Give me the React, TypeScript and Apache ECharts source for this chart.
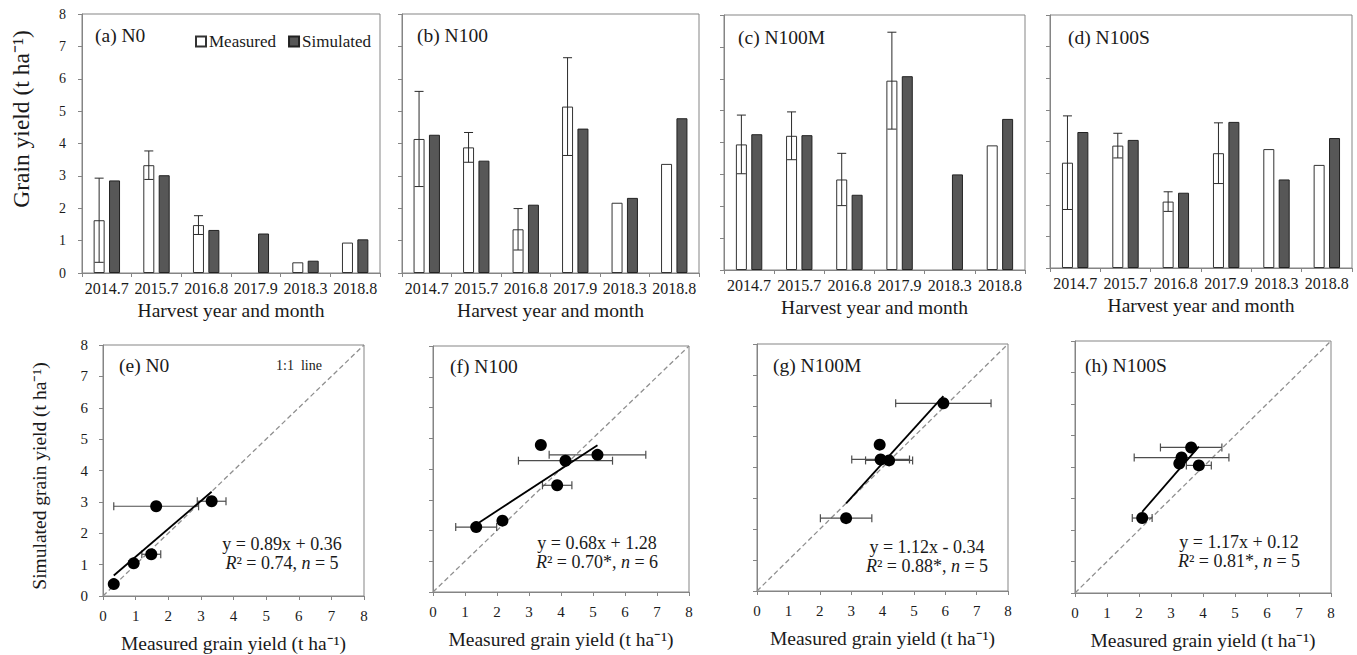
import React, { useEffect, useRef } from "react";
import * as echarts from "echarts";

const categories = ["2014.7", "2015.7", "2016.8", "2017.9", "2018.3", "2018.8"];
const treatments = ["N0", "N100", "N100M", "N100S"];
const topLetters = ["(a)", "(b)", "(c)", "(d)"];
const bottomLetters = ["(e)", "(f)", "(g)", "(h)"];

// Measured grain yield, standard deviation and simulated grain yield (t/ha)
const measuredN0 = [1.63, 3.33, 1.48, null, 0.33, 0.94];
const sdN0 = [1.3, 0.44, 0.29, null, null, null];
const simulatedN0 = [2.86, 3.02, 1.33, 1.22, 0.38, 1.04];

const measuredN100 = [4.14, 3.88, 1.35, 5.14, 2.17, 3.37];
const sdN100 = [1.47, 0.46, 0.64, 1.51, null, null];
const simulatedN100 = [4.27, 3.47, 2.11, 4.46, 2.32, 4.78];

const measuredN100M = [3.94, 4.21, 2.84, 5.94, null, 3.91];
const sdN100M = [0.92, 0.75, 0.82, 1.52, null, null];
const simulatedN100M = [4.26, 4.23, 2.36, 6.08, 3.0, 4.74];

const measuredN100S = [3.33, 3.87, 2.1, 3.63, 3.76, 3.26];
const sdN100S = [1.48, 0.39, 0.31, 0.96, null, null];
const simulatedN100S = [4.3, 4.05, 2.38, 4.62, 2.8, 4.11];

// Harvests left out of each regression
const excludedN0 = ["2017.9"];
const excludedN100: string[] = [];
const excludedN100M = ["2018.3"];
const excludedN100S = ["2018.3"];

// Regression statistics
const fitSlopes = [0.89, 0.68, 1.12, 1.17];
const fitIntercepts = [0.36, 1.28, -0.34, 0.12];
const fitEquations = ["y = 0.89x + 0.36", "y = 0.68x + 1.28", "y = 1.12x - 0.34", "y = 1.17x + 0.12"];
const fitR2 = ["0.74", "0.70*", "0.88*", "0.81*"];

const yTicks = ["0", "1", "2", "3", "4", "5", "6", "7", "8"];

const measuredAll = [measuredN0, measuredN100, measuredN100M, measuredN100S];
const sdAll = [sdN0, sdN100, sdN100M, sdN100S];
const simulatedAll = [simulatedN0, simulatedN100, simulatedN100M, simulatedN100S];
const excludedAll = [excludedN0, excludedN100, excludedN100M, excludedN100S];

const FONT = "'Liberation Serif', 'Times New Roman', Times, serif";
const AXIS_GRAY = "#858585";
const TEXT = "#1a1a1a";

const topGrids = [
  { left: 82, top: 14, width: 298, height: 259 },
  { left: 402, top: 14, width: 297, height: 259 },
  { left: 724, top: 15, width: 301, height: 255 },
  { left: 1050, top: 15, width: 302, height: 253 },
];
const bottomGrids = [
  { left: 103, top: 345, width: 261, height: 251 },
  { left: 433, top: 346, width: 256, height: 246 },
  { left: 757, top: 344, width: 251, height: 247 },
  { left: 1075, top: 341, width: 256, height: 252 },
];
const topLabelPos = [
  [95, 35],
  [417, 35],
  [738, 37],
  [1068, 37],
];
const bottomLabelPos = [
  [119, 365],
  [450, 366],
  [773, 365],
  [1085, 365],
];
const eqPos = [
  [282, 544, 563],
  [597, 543, 562],
  [927, 547, 566],
  [1239, 542, 561],
];

const BAR_W = 11;
const BAR_GAP = 0.4;

function buildOption() {
  const grid: any[] = [];
  const xAxis: any[] = [];
  const yAxis: any[] = [];
  const series: any[] = [];
  const graphic: any[] = [];

  const axisLineStyle = { lineStyle: { color: AXIS_GRAY, width: 1 } };
  const tickStyle = { show: true, length: 4, lineStyle: { color: AXIS_GRAY, width: 1 } };

  // ---------- top bar panels ----------
  for (let i = 0; i < 4; i++) {
    grid.push({ ...topGrids[i], show: true, borderColor: AXIS_GRAY, borderWidth: 1, containLabel: false });
    xAxis.push({
      type: "category",
      gridIndex: i,
      data: categories,
      axisLine: axisLineStyle,
      axisTick: { ...tickStyle, alignWithLabel: false },
      axisLabel: { color: TEXT, fontFamily: FONT, fontSize: 16, margin: 7, interval: 0 },
      name: "Harvest year and month",
      nameLocation: "middle",
      nameGap: 27,
      nameTextStyle: { color: TEXT, fontFamily: FONT, fontSize: 19.5 },
    });
    yAxis.push({
      type: "value",
      gridIndex: i,
      min: 0,
      max: 8,
      interval: 1,
      axisLine: { show: true, ...axisLineStyle },
      axisTick: tickStyle,
      splitLine: { show: false },
      axisLabel: {
        show: i === 0,
        color: TEXT,
        fontFamily: FONT,
        fontSize: 14,
        margin: 16,
        formatter: (v: number) => yTicks[Math.round(v)] ?? "",
      },
    });
    const meas = measuredAll[i];
    const sd = sdAll[i];
    series.push({
      type: "bar",
      name: "Measured",
      xAxisIndex: i,
      yAxisIndex: i,
      data: meas,
      barWidth: BAR_W,
      barGap: `${BAR_GAP * 100}%`,
      itemStyle: { color: "#ffffff", borderColor: "#333333", borderWidth: 1 },
      z: 2,
    });
    series.push({
      type: "bar",
      name: "Simulated",
      xAxisIndex: i,
      yAxisIndex: i,
      data: simulatedAll[i],
      barWidth: BAR_W,
      barGap: `${BAR_GAP * 100}%`,
      itemStyle: { color: "#575757", borderColor: "#222222", borderWidth: 1 },
      z: 2,
    });
    const errData: any[] = [];
    meas.forEach((m, k) => {
      if (m != null && sd[k] != null) errData.push([k, m, sd[k]]);
    });
    const offset = -(BAR_W + BAR_W * BAR_GAP) / 2;
    series.push({
      type: "custom",
      name: "errTop" + i,
      xAxisIndex: i,
      yAxisIndex: i,
      data: errData,
      encode: { x: 0, y: 1 },
      z: 5,
      silent: true,
      renderItem: (params: any, api: any) => {
        const k = api.value(0);
        const v = api.value(1);
        const s = api.value(2);
        const hi = api.coord([k, v + s]);
        const lo = api.coord([k, v - s]);
        const cx = hi[0] + offset;
        const st = { stroke: "#2a2a2a", lineWidth: 1 };
        return {
          type: "group",
          children: [
            { type: "line", shape: { x1: cx, y1: hi[1], x2: cx, y2: lo[1] }, style: st },
            { type: "line", shape: { x1: cx - 4.5, y1: hi[1], x2: cx + 4.5, y2: hi[1] }, style: st },
            { type: "line", shape: { x1: cx - 4.5, y1: lo[1], x2: cx + 4.5, y2: lo[1] }, style: st },
          ],
        };
      },
    });
    graphic.push({
      type: "text",
      x: topLabelPos[i][0],
      y: topLabelPos[i][1],
      style: {
        text: `${topLetters[i]} ${treatments[i]}`,
        fontFamily: FONT,
        fontSize: 19.5,
        fill: TEXT,
        verticalAlign: "middle",
        align: "left",
      },
    });
  }

  // ---------- bottom scatter panels ----------
  for (let j = 0; j < 4; j++) {
    const gi = 4 + j;
    grid.push({ ...bottomGrids[j], show: true, borderColor: AXIS_GRAY, borderWidth: 1, containLabel: false });
    xAxis.push({
      type: "value",
      gridIndex: gi,
      min: 0,
      max: 8,
      interval: 1,
      axisLine: axisLineStyle,
      axisTick: tickStyle,
      splitLine: { show: false },
      axisLabel: {
        color: TEXT,
        fontFamily: FONT,
        fontSize: 15,
        margin: 12,
        formatter: (v: number) => yTicks[Math.round(v)] ?? "",
      },
      name: "Measured grain yield (t ha\u207B\u00B9)",
      nameLocation: "middle",
      nameGap: 37,
      nameTextStyle: { color: TEXT, fontFamily: FONT, fontSize: 19.5 },
    });
    yAxis.push({
      type: "value",
      gridIndex: gi,
      min: 0,
      max: 8,
      interval: 1,
      axisLine: { show: true, ...axisLineStyle },
      axisTick: tickStyle,
      splitLine: { show: false },
      axisLabel: {
        show: j === 0,
        color: TEXT,
        fontFamily: FONT,
        fontSize: 15,
        margin: 15,
        formatter: (v: number) => yTicks[Math.round(v)] ?? "",
      },
    });

    const meas = measuredAll[j];
    const sim = simulatedAll[j];
    const sd = sdAll[j];
    const excl = excludedAll[j];
    const pts: number[][] = [];
    const errs: number[][] = [];
    categories.forEach((c, k) => {
      const m = meas[k];
      if (m == null || excl.includes(c)) return;
      pts.push([m, sim[k] as number]);
      if (sd[k] != null) errs.push([m, sim[k] as number, sd[k] as number]);
    });
    const xs = pts.map((p) => p[0]);
    const x0 = Math.min(...xs);
    const x1 = Math.max(...xs);

    series.push({
      type: "line",
      name: "1:1 line",
      xAxisIndex: gi,
      yAxisIndex: gi,
      data: [
        [0, 0],
        [8, 8],
      ],
      symbol: "none",
      silent: true,
      lineStyle: { color: "#8f8f8f", width: 1.3, type: [5, 3] },
      z: 2,
    });
    series.push({
      type: "custom",
      name: "errBottom" + j,
      xAxisIndex: gi,
      yAxisIndex: gi,
      data: errs,
      encode: { x: 0, y: 1 },
      z: 3,
      silent: true,
      renderItem: (params: any, api: any) => {
        const m = api.value(0);
        const v = api.value(1);
        const s = api.value(2);
        const lo = api.coord([m - s, v]);
        const hi = api.coord([m + s, v]);
        const st = { stroke: "#4d4d4d", lineWidth: 1.2 };
        return {
          type: "group",
          children: [
            { type: "line", shape: { x1: lo[0], y1: lo[1], x2: hi[0], y2: hi[1] }, style: st },
            { type: "line", shape: { x1: lo[0], y1: lo[1] - 4, x2: lo[0], y2: lo[1] + 4 }, style: st },
            { type: "line", shape: { x1: hi[0], y1: hi[1] - 4, x2: hi[0], y2: hi[1] + 4 }, style: st },
          ],
        };
      },
    });
    series.push({
      type: "line",
      name: "fit" + j,
      xAxisIndex: gi,
      yAxisIndex: gi,
      data: [
        [x0, fitSlopes[j] * x0 + fitIntercepts[j]],
        [x1, fitSlopes[j] * x1 + fitIntercepts[j]],
      ],
      symbol: "none",
      silent: true,
      lineStyle: { color: "#000000", width: 1.8 },
      z: 4,
    });
    series.push({
      type: "scatter",
      name: "points" + j,
      xAxisIndex: gi,
      yAxisIndex: gi,
      data: pts,
      symbol: "circle",
      symbolSize: 12,
      itemStyle: { color: "#000000", opacity: 1 },
      z: 5,
    });

    graphic.push({
      type: "text",
      x: bottomLabelPos[j][0],
      y: bottomLabelPos[j][1],
      style: {
        text: `${bottomLetters[j]} ${treatments[j]}`,
        fontFamily: FONT,
        fontSize: 19.5,
        fill: TEXT,
        verticalAlign: "middle",
        align: "left",
      },
    });
    graphic.push({
      type: "text",
      x: eqPos[j][0],
      y: eqPos[j][1],
      style: {
        text: fitEquations[j],
        fontFamily: FONT,
        fontSize: 18,
        fill: TEXT,
        align: "center",
        verticalAlign: "middle",
      },
    });
    graphic.push({
      type: "text",
      x: eqPos[j][0],
      y: eqPos[j][2],
      style: {
        text: `{i|R}\u00B2 = ${fitR2[j]}, {i|n} = ${pts.length}`,
        fontFamily: FONT,
        fontSize: 18,
        fill: TEXT,
        align: "center",
        verticalAlign: "middle",
        rich: {
          i: { fontFamily: FONT, fontSize: 18, fontStyle: "italic", fill: TEXT, color: TEXT },
        },
      },
    });
  }

  // 1:1 line note
  graphic.push({
    type: "text",
    x: 299,
    y: 365,
    style: {
      text: "1:1  line",
      fontFamily: FONT,
      fontSize: 14,
      fill: TEXT,
      align: "center",
      verticalAlign: "middle",
    },
  });
  // axis titles on the left
  graphic.push({
    type: "text",
    x: 21,
    y: 119,
    rotation: Math.PI / 2,
    style: {
      text: "Grain yield (t ha\u207B\u00B9)",
      fontFamily: FONT,
      fontSize: 23.5,
      fill: TEXT,
      align: "center",
      verticalAlign: "middle",
    },
  });
  graphic.push({
    type: "text",
    x: 39,
    y: 476,
    rotation: Math.PI / 2,
    style: {
      text: "Simulated grain yield (t ha\u207B\u00B9)",
      fontFamily: FONT,
      fontSize: 19.5,
      fill: TEXT,
      align: "center",
      verticalAlign: "middle",
    },
  });

  return {
    animation: false,
    backgroundColor: "#ffffff",
    textStyle: { fontFamily: FONT },
    legend: {
      data: ["Measured", "Simulated"],
      left: 190,
      top: 28,
      itemWidth: 10,
      itemHeight: 10,
      itemGap: 12,
      icon: "rect",
      selectedMode: false,
      textStyle: { fontFamily: FONT, fontSize: 17, color: TEXT, padding: [0, 0, 0, -2] },
    },
    grid,
    xAxis,
    yAxis,
    series,
    graphic,
  };
}

export default function App() {
  const ref = useRef<HTMLDivElement>(null);
  useEffect(() => {
    if (!ref.current) return;
    const chart = echarts.init(ref.current, undefined, { renderer: "svg" });
    chart.setOption(buildOption() as any);
    return () => chart.dispose();
  }, []);
  return (
    <div
      ref={ref}
      style={{ position: "fixed", left: 0, top: 0, width: 1357, height: 655, background: "#fff" }}
    />
  );
}
